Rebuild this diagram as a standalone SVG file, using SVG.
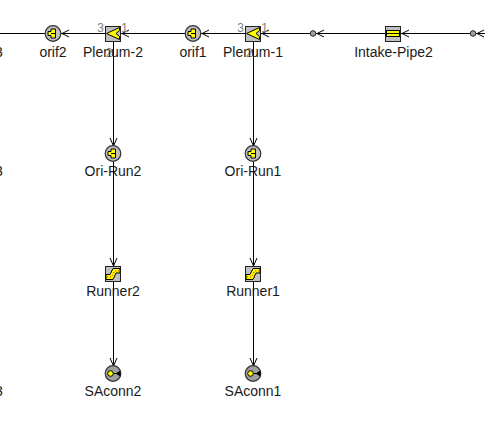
<svg xmlns="http://www.w3.org/2000/svg" width="485" height="440" viewBox="0 0 485 440">
<style>
.lbl{font-family:"Liberation Sans",Arial,sans-serif;font-size:14px;fill:#1a1a1a;text-anchor:middle}
.port{font-family:"Liberation Sans",Arial,sans-serif;font-size:12px;fill:#808080;text-anchor:middle}
.w{fill:none;stroke:#000;stroke-width:1}
.c{shape-rendering:crispEdges}
.box{fill:#c0c0c0;stroke:#222;stroke-width:1;shape-rendering:crispEdges}
.ball{fill:#c0c0c0;stroke:#333;stroke-width:1.2}
.y{fill:#ffff00;stroke:#000;stroke-width:1}
.k{fill:#000}
.dot{fill:#a0a0a0;stroke:#222;stroke-width:1}
.r{fill:none;stroke:#e00000;stroke-width:1;stroke-dasharray:1 2}
</style>
<defs>
<g id="orifice"><circle class="ball" r="7.800"/><path class="y" d="M-5,-2H-2V-4.500H2.500V4.500H-2V2H-5Z"/><path class="k" d="M-2,-.5H2V.5H-2Z"/></g>
<g id="plenum"><rect class="box" x="-7.500" y="-7.500" width="15" height="15"/><path class="y" d="M-6.500,0L6.500,-6V-3L3,0L6.500,3V6Z"/></g>
<g id="runner"><rect class="box" x="-7.500" y="-7.500" width="15" height="15"/><path class="y" d="M-7,1H-3L0,-5H7V-.5H3L0,6H-7Z"/><path class="r" d="M-6,3.500H-1.500L1.500,-2.500H7"/></g>
<g id="sconn"><circle class="ball" r="7.800" style="fill:#a0a0a0"/><path class="w" d="M-2,0H4"/><circle cx="-2.500" cy="0" r="2.800" class="y"/><path class="k" d="M4,-1L7.500,-3V3L4,1Z"/></g>
<path id="arL" class="w" d="M7,-3.500L0,0L7,3.500"/>
<path id="arD" class="w" d="M-3.500,-8L0,0L3.500,-8"/>
</defs>
<g id="labels">
<text class="lbl" x="-1" y="57">3</text>
<text class="lbl" x="-1" y="176">3</text>
<text class="lbl" x="-1" y="396">3</text>
</g>
<g id="connectors">
<path class="w c" d="M0,33.500H485M113.500,33V373M253.500,33V373"/>
<use href="#arL" x="62" y="33.500"/>
<use href="#arL" x="122" y="33.500"/>
<use href="#arL" x="202" y="33.500"/>
<use href="#arL" x="262" y="33.500"/>
<use href="#arL" x="317" y="33.500"/>
<use href="#arL" x="402" y="33.500"/>
<use href="#arL" x="477" y="33.500"/>
<use href="#arD" x="113.500" y="146"/>
<use href="#arD" x="253.500" y="146"/>
<use href="#arD" x="113.500" y="266"/>
<use href="#arD" x="253.500" y="266"/>
<use href="#arD" x="113.500" y="366"/>
<use href="#arD" x="253.500" y="366"/>
</g>
<g id="orif2"><use href="#orifice" x="53" y="33.500"/><text class="lbl" x="53" y="57">orif2</text></g>
<g id="plenum2"><use href="#plenum" x="113" y="33.500"/><text class="port" x="100.500" y="32">3</text><text class="port" x="124.500" y="32">1</text><text class="port" x="109" y="57">2</text><text class="lbl" x="113" y="57">Plenum-2</text></g>
<g id="orif1"><use href="#orifice" x="193" y="33.500"/><text class="lbl" x="193" y="57">orif1</text></g>
<g id="plenum1"><use href="#plenum" x="253" y="33.500"/><text class="port" x="240.500" y="32">3</text><text class="port" x="264.500" y="32">1</text><text class="port" x="249" y="57">2</text><text class="lbl" x="253" y="57">Plenum-1</text></g>
<g id="junction1"><circle class="dot" cx="313" cy="33.500" r="2.800"/></g>
<g id="intake-pipe2"><rect class="box" x="385.500" y="26" width="15" height="15"/><rect class="y c" x="386.500" y="30.500" width="13" height="6"/><path class="w c" d="M386,33.500H400"/><text class="lbl" x="393.500" y="57">Intake-Pipe2</text></g>
<g id="junction2"><circle class="dot" cx="473" cy="33.500" r="2.800"/></g>
<g id="ori-run2"><use href="#orifice" x="113" y="153.500"/><text class="lbl" x="113" y="176">Ori-Run2</text></g>
<g id="ori-run1"><use href="#orifice" x="253" y="153.500"/><text class="lbl" x="253" y="176">Ori-Run1</text></g>
<g id="runner2"><use href="#runner" x="113" y="273.500"/><text class="lbl" x="113" y="296">Runner2</text></g>
<g id="runner1"><use href="#runner" x="253" y="273.500"/><text class="lbl" x="253" y="296">Runner1</text></g>
<g id="saconn2"><use href="#sconn" x="113" y="373.500"/><text class="lbl" x="113" y="396">SAconn2</text></g>
<g id="saconn1"><use href="#sconn" x="253" y="373.500"/><text class="lbl" x="253" y="396">SAconn1</text></g>
</svg>
